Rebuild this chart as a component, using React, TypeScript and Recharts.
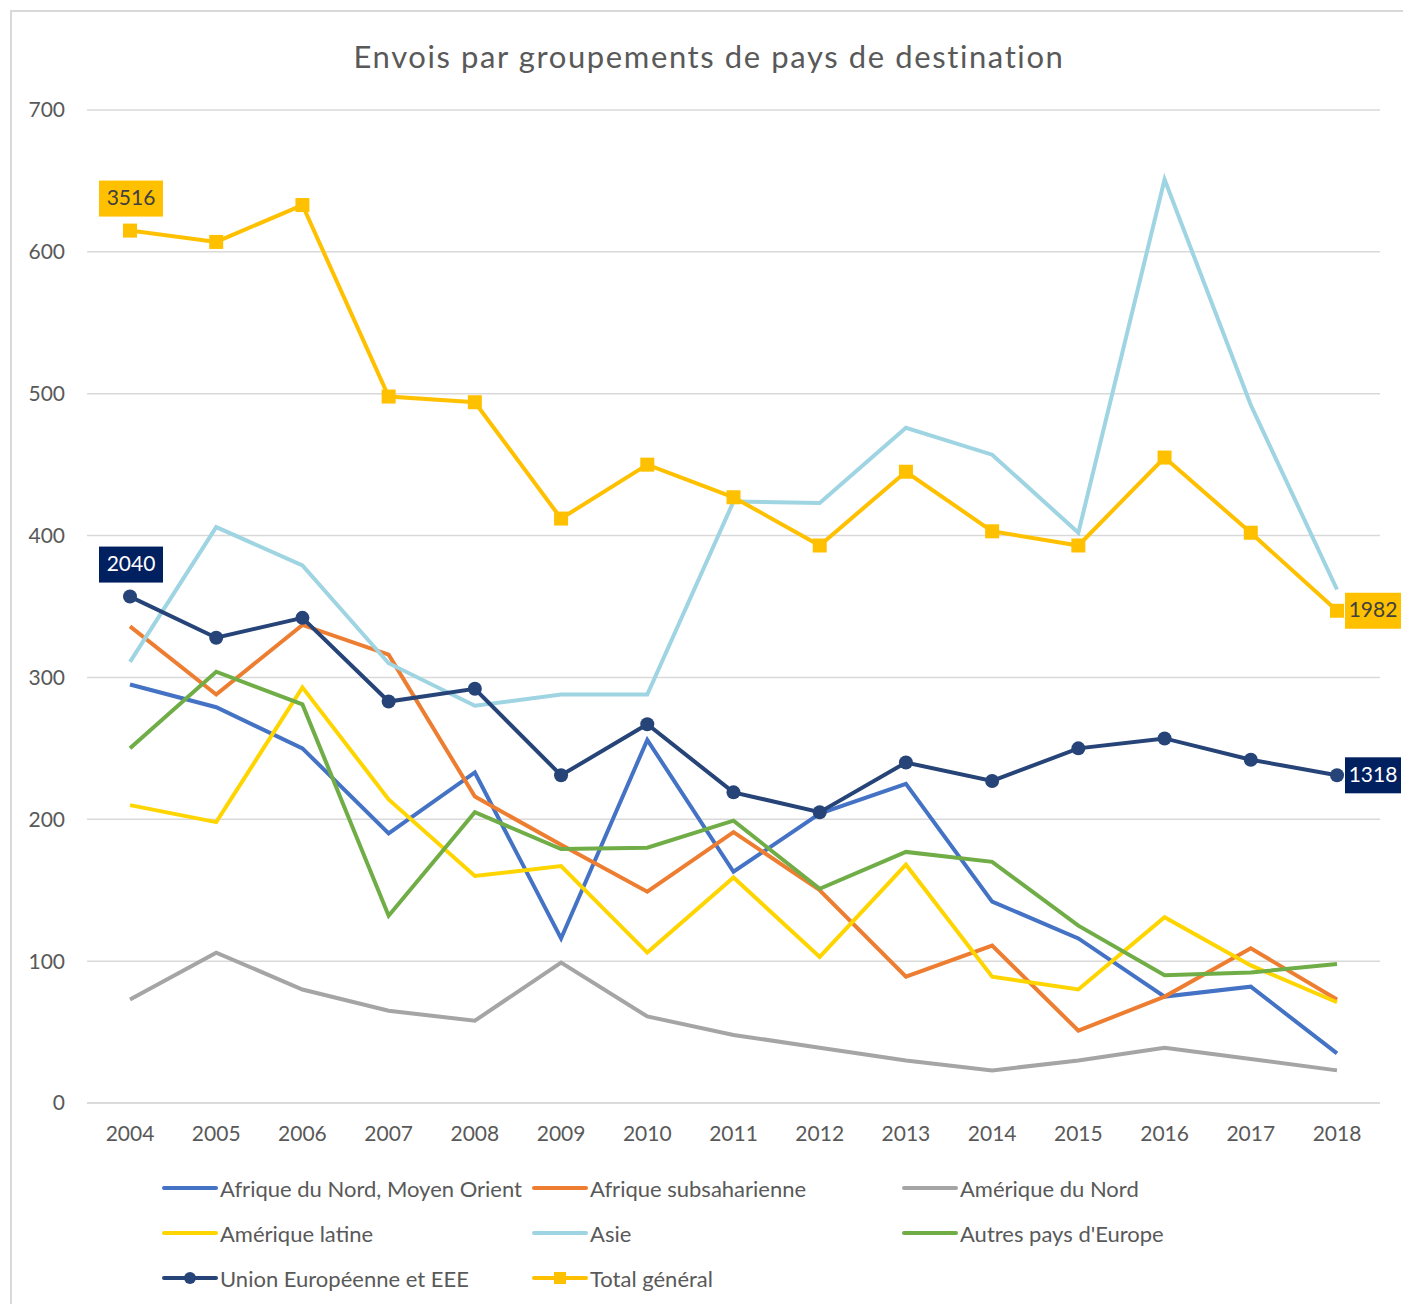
import React from 'react';
import { LineChart, Line, XAxis, YAxis, CartesianGrid, LabelList } from 'recharts';

const years = ['2004', '2005', '2006', '2007', '2008', '2009', '2010', '2011', '2012', '2013', '2014', '2015', '2016', '2017', '2018'];
const afriqueNord = [295, 279, 250, 190, 233, 116, 256, 163, 204, 225, 142, 116, 75, 82, 35];
const afriqueSub = [336, 288, 337, 316, 216, 182, 149, 191, 150, 89, 111, 51, 75, 109, 73];
const ameriqueNord = [73, 106, 80, 65, 58, 99, 61, 48, 39, 30, 23, 30, 39, 31, 23];
const ameriqueLatine = [210, 198, 293, 214, 160, 167, 106, 159, 103, 168, 89, 80, 131, 97, 71];
const asie = [311, 406, 379, 310, 280, 288, 288, 424, 423, 476, 457, 402, 651, 492, 362];
const autresEurope = [250, 304, 281, 132, 205, 179, 180, 199, 151, 177, 170, 125, 90, 92, 98];
const unionEuropeenne = [357, 328, 342, 283, 292, 231, 267, 219, 205, 240, 227, 250, 257, 242, 231];
const totalGeneral = [615, 607, 633, 498, 494, 412, 450, 427, 393, 445, 403, 393, 455, 402, 347];
const ueLabels = ['2040', '', '', '', '', '', '', '', '', '', '', '', '', '', '1318'];
const totalLabels = ['3516', '', '', '', '', '', '', '', '', '', '', '', '', '', '1982'];
const yTicks = [0, 100, 200, 300, 400, 500, 600, 700];

const data = years.map((year, i) => ({
  year,
  afriqueNord: afriqueNord[i],
  afriqueSub: afriqueSub[i],
  ameriqueNord: ameriqueNord[i],
  ameriqueLatine: ameriqueLatine[i],
  asie: asie[i],
  autresEurope: autresEurope[i],
  ue: unionEuropeenne[i],
  total: totalGeneral[i],
}));

const series = [
  { key: 'afriqueNord', name: 'Afrique du Nord, Moyen Orient', color: '#4472C4', marker: 'none' },
  { key: 'afriqueSub', name: 'Afrique subsaharienne', color: '#ED7D31', marker: 'none' },
  { key: 'ameriqueNord', name: 'Amérique du Nord', color: '#A5A5A5', marker: 'none' },
  { key: 'ameriqueLatine', name: 'Amérique latine', color: '#FFD500', marker: 'none' },
  { key: 'asie', name: 'Asie', color: '#9FD4E2', marker: 'none' },
  { key: 'autresEurope', name: "Autres pays d'Europe", color: '#70AD47', marker: 'none' },
  { key: 'ue', name: 'Union Européenne et EEE', color: '#264478', marker: 'circle' },
  { key: 'total', name: 'Total général', color: '#FFC000', marker: 'square' },
];

const FONT = 'Lato, "Open Sans", sans-serif';

const makeBoxLabel = (texts: string[], fill: string, textColor: string) => (props: any) => {
  const { x, y, index } = props;
  const t = texts[index];
  if (!t) return null;
  let bx: number, by: number, w: number;
  const h = 36;
  if (index === 0) {
    w = 64;
    bx = x - w / 2 + 1;
    by = y - 14 - h;
  } else {
    w = 56;
    bx = x + 8;
    by = y - h / 2;
  }
  return (
    <g>
      <rect x={bx} y={by} width={w} height={h} fill={fill} />
      <text x={bx + w / 2} y={by + h / 2 + 1} textAnchor="middle" dominantBaseline="middle" fill={textColor} fontSize={21} fontFamily={FONT}>
        {t}
      </text>
    </g>
  );
};

const SquareDot = (props: any) => {
  const { cx, cy } = props;
  if (cx == null || cy == null) return null;
  return <rect x={cx - 7} y={cy - 7} width={14} height={14} fill="#FFC000" />;
};

const legendCols = [162, 532, 902];
const legendRows = [1188, 1233, 1278];

export default function App() {
  return (
    <div style={{ position: 'absolute', left: 0, top: 0, width: 1403, height: 1304, background: '#fff', overflow: 'hidden' }}>
      <div style={{ position: 'absolute', left: 10, top: 10, width: 1420, height: 1320, border: '2px solid #D9D9D9', boxSizing: 'border-box' }} />
      <div style={{ position: 'absolute', left: 0, top: 36, width: 1418, textAlign: 'center', fontFamily: FONT, fontSize: 31, letterSpacing: 1.6, color: '#595959', lineHeight: '40px' }}>
        Envois par groupements de pays de destination
      </div>
      <div style={{ position: 'absolute', left: 0, top: 0 }}>
        <LineChart width={1403} height={1160} data={data} margin={{ top: 110, right: 23, bottom: 27, left: 27 }}>
          <CartesianGrid vertical={false} stroke="#D9D9D9" strokeWidth={1.5} />
          <XAxis
            dataKey="year"
            axisLine={{ stroke: '#D9D9D9', strokeWidth: 1.5 }}
            tickLine={false}
            tickMargin={17}
            padding={{ left: 43, right: 43 }}
            tick={{ fill: '#595959', fontSize: 21, fontFamily: FONT }}
            interval={0}
          />
          <YAxis
            domain={[0, 700]}
            ticks={yTicks}
            axisLine={false}
            tickLine={false}
            width={60}
            tickMargin={16}
            tick={{ fill: '#595959', fontSize: 21, fontFamily: FONT }}
          />
          {series.map((s) => {
            let dot: any = false;
            if (s.marker === 'circle') dot = { r: 7, fill: s.color, stroke: s.color, strokeWidth: 0 };
            if (s.marker === 'square') dot = <SquareDot />;
            return (
              <Line
                key={s.key}
                type="linear"
                dataKey={s.key}
                name={s.name}
                stroke={s.color}
                strokeWidth={4}
                dot={dot}
                activeDot={false}
                isAnimationActive={false}
              >
                {s.key === 'ue' && <LabelList dataKey="ue" content={makeBoxLabel(ueLabels, '#002060', '#FFFFFF')} />}
                {s.key === 'total' && <LabelList dataKey="total" content={makeBoxLabel(totalLabels, '#FFC000', '#404040')} />}
              </Line>
            );
          })}
        </LineChart>
      </div>
      {series.map((s, i) => {
        const col = i % 3;
        const row = Math.floor(i / 3);
        const lx = legendCols[col];
        const ly = legendRows[row];
        return (
          <div key={s.key} style={{ position: 'absolute', left: lx, top: ly - 15, height: 30, display: 'flex', alignItems: 'center' }}>
            <svg width={56} height={20} style={{ display: 'block' }}>
              <line x1={2} y1={10} x2={54} y2={10} stroke={s.color} strokeWidth={4} strokeLinecap="round" />
              {s.marker === 'circle' && <circle cx={28} cy={10} r={6} fill={s.color} />}
              {s.marker === 'square' && <rect x={22} y={4} width={12} height={12} fill={s.color} />}
            </svg>
            <span style={{ fontFamily: FONT, fontSize: 22, color: '#595959', marginLeft: 2, whiteSpace: 'nowrap' }}>{s.name}</span>
          </div>
        );
      })}
    </div>
  );
}
